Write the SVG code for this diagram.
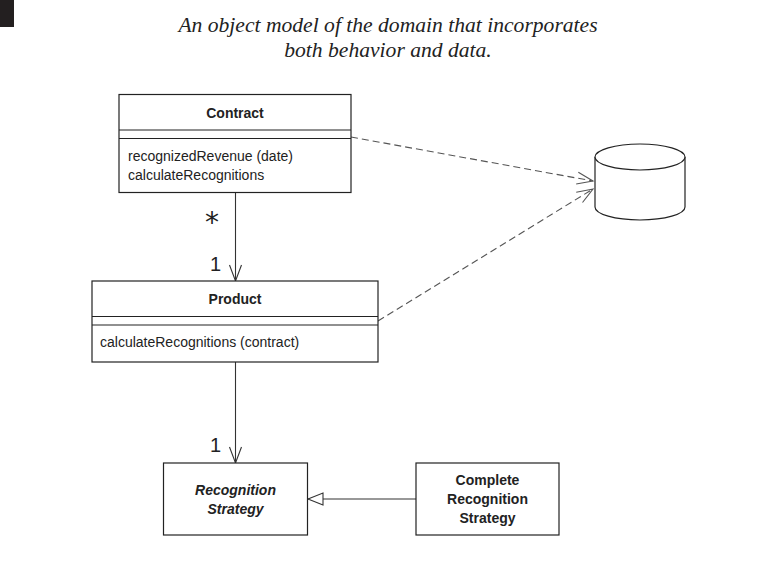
<svg xmlns="http://www.w3.org/2000/svg" width="770" height="568" viewBox="0 0 770 568">
<style>
.box{fill:#fff;stroke:#222;stroke-width:1.2}
.ln{stroke:#222;stroke-width:1.2;fill:none}
.name{font-family:"Liberation Sans",Arial,sans-serif;font-size:14px;font-weight:bold;fill:#222;text-anchor:middle}
.abs{font-style:italic}
.op{font-family:"Liberation Sans",Arial,sans-serif;font-size:14px;fill:#222}
.mult{font-family:"Liberation Sans",Arial,sans-serif;font-size:20px;fill:#222}
.star{font-family:"DejaVu Sans",sans-serif;font-size:28px;fill:#222;text-anchor:middle}
.title{font-family:"Liberation Serif","Times New Roman",serif;font-style:italic;font-size:21.6px;fill:#222;text-anchor:middle}
.assoc{stroke:#333;stroke-width:1.1;fill:none}
.dash{stroke:#555;stroke-width:1.1;fill:none;stroke-dasharray:7,4}
</style>
<defs>
<marker id="open" markerUnits="userSpaceOnUse" markerWidth="20" markerHeight="16" refX="17" refY="7" orient="auto" viewBox="0 0 20 16">
<path d="M1,1 L17,7 L1,13" fill="none" stroke="#333" stroke-width="1.1"/>
</marker>
<marker id="openg" markerUnits="userSpaceOnUse" markerWidth="20" markerHeight="16" refX="17" refY="7" orient="auto" viewBox="0 0 20 16">
<path d="M1,1 L17,7 L1,13" fill="none" stroke="#555" stroke-width="1.1"/>
</marker>
<marker id="tri" markerUnits="userSpaceOnUse" markerWidth="18" markerHeight="16" refX="16" refY="7" orient="auto" viewBox="0 0 18 16">
<path d="M1,1 L16,7 L1,13 Z" fill="#fff" stroke="#333" stroke-width="1.1"/>
</marker>
</defs>
<rect x="0" y="0" width="14" height="27" fill="#231f20"/>
<text class="title" x="388" y="32">An object model of the domain that incorporates</text>
<text class="title" x="388" y="57">both behavior and data.</text>
<g id="connectors">
<line class="assoc" x1="235.5" y1="193" x2="235.5" y2="281" marker-end="url(#open)"/>
<line class="assoc" x1="235.5" y1="362" x2="235.5" y2="463" marker-end="url(#open)"/>
<line class="assoc" x1="416" y1="499" x2="308" y2="499" marker-end="url(#tri)"/>
<line class="dash" x1="351" y1="137" x2="593" y2="181" marker-end="url(#openg)"/>
<line class="dash" x1="378" y1="321" x2="593" y2="189" marker-end="url(#openg)"/>
<text class="star" x="212" y="232">*</text>
<text class="mult" x="210" y="271">1</text>
<text class="mult" x="210" y="452">1</text>
</g>
<g id="contract">
<rect class="box" x="119" y="94.5" width="232" height="98"/>
<line class="ln" x1="119" y1="130" x2="351" y2="130"/>
<line class="ln" x1="119" y1="138.5" x2="351" y2="138.5"/>
<text class="name" x="235" y="118">Contract</text>
<text class="op" x="128" y="161">recognizedRevenue (date)</text>
<text class="op" x="128" y="180">calculateRecognitions</text>
</g>
<g id="product">
<rect class="box" x="92" y="281" width="286" height="81"/>
<line class="ln" x1="92" y1="316.5" x2="378" y2="316.5"/>
<line class="ln" x1="92" y1="325" x2="378" y2="325"/>
<text class="name" x="235" y="304">Product</text>
<text class="op" x="100" y="347">calculateRecognitions (contract)</text>
</g>
<g id="recognition-strategy">
<rect class="box" x="163.5" y="463" width="144" height="72"/>
<text class="name abs" x="235.5" y="495">Recognition</text>
<text class="name abs" x="235.5" y="514">Strategy</text>
</g>
<g id="complete-recognition-strategy">
<rect class="box" x="416" y="463" width="143" height="72"/>
<text class="name" x="487.5" y="485">Complete</text>
<text class="name" x="487.5" y="504">Recognition</text>
<text class="name" x="487.5" y="523">Strategy</text>
</g>
<g id="database">
<path d="M595,157 L595,207 A45,13 0 0 0 685,207 L685,157" fill="#fff" stroke="#222" stroke-width="1.2"/>
<ellipse cx="640" cy="157" rx="45" ry="13" fill="#fff" stroke="#222" stroke-width="1.2"/>
</g>
</svg>
